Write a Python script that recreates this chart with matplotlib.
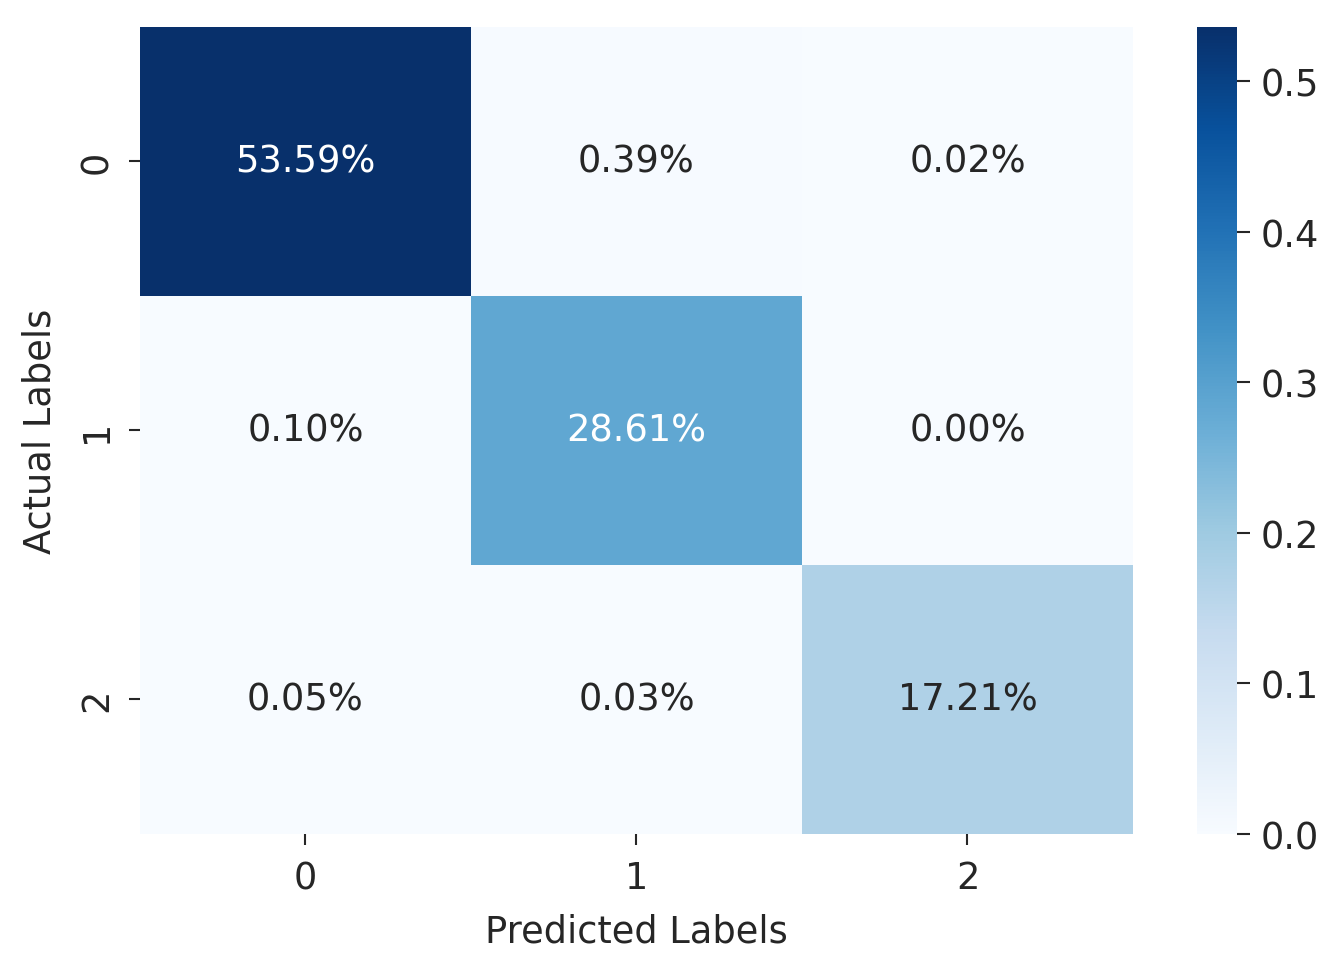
import numpy as np
import matplotlib
matplotlib.use("Agg")
import matplotlib.pyplot as plt
import seaborn as sns

# confusion matrix, normalised to the total count
labels = ["0", "1", "2"]
row0 = [0.5359, 0.0039, 0.0002]
row1 = [0.0010, 0.2861, 0.0000]
row2 = [0.0005, 0.0003, 0.1721]
cm = np.array([row0, row1, row2])

FS = 26.5
plt.rcParams["font.family"] = "DejaVu Sans"
plt.rcParams["font.size"] = FS

fig = plt.figure(figsize=(13.29, 9.62), dpi=100)
ax = fig.add_axes([0.1053, 0.132, 0.7472, 0.839])
cax = fig.add_axes([0.9007, 0.132, 0.0301, 0.839])

sns.heatmap(cm, annot=True, fmt=".2%", cmap="Blues", ax=ax, cbar_ax=cax,
            xticklabels=labels, yticklabels=labels,
            annot_kws={"fontsize": FS})

ax.set_xlabel("Predicted Labels", fontsize=FS, color="#262626", labelpad=12)
ax.set_ylabel("Actual Labels", fontsize=FS, color="#262626", labelpad=14)
ax.tick_params(axis="both", labelsize=FS, length=8, width=1.5,
               colors="#262626", pad=10)
ax.set_yticklabels(labels, rotation=90, va="center")
ax.set_xticklabels(labels, rotation=0)
cax.tick_params(labelsize=FS, length=9, width=1.5, colors="#262626", pad=8)
cax.set_yticks([0.0, 0.1, 0.2, 0.3, 0.4, 0.5])

plt.savefig("out.png", dpi=100)
